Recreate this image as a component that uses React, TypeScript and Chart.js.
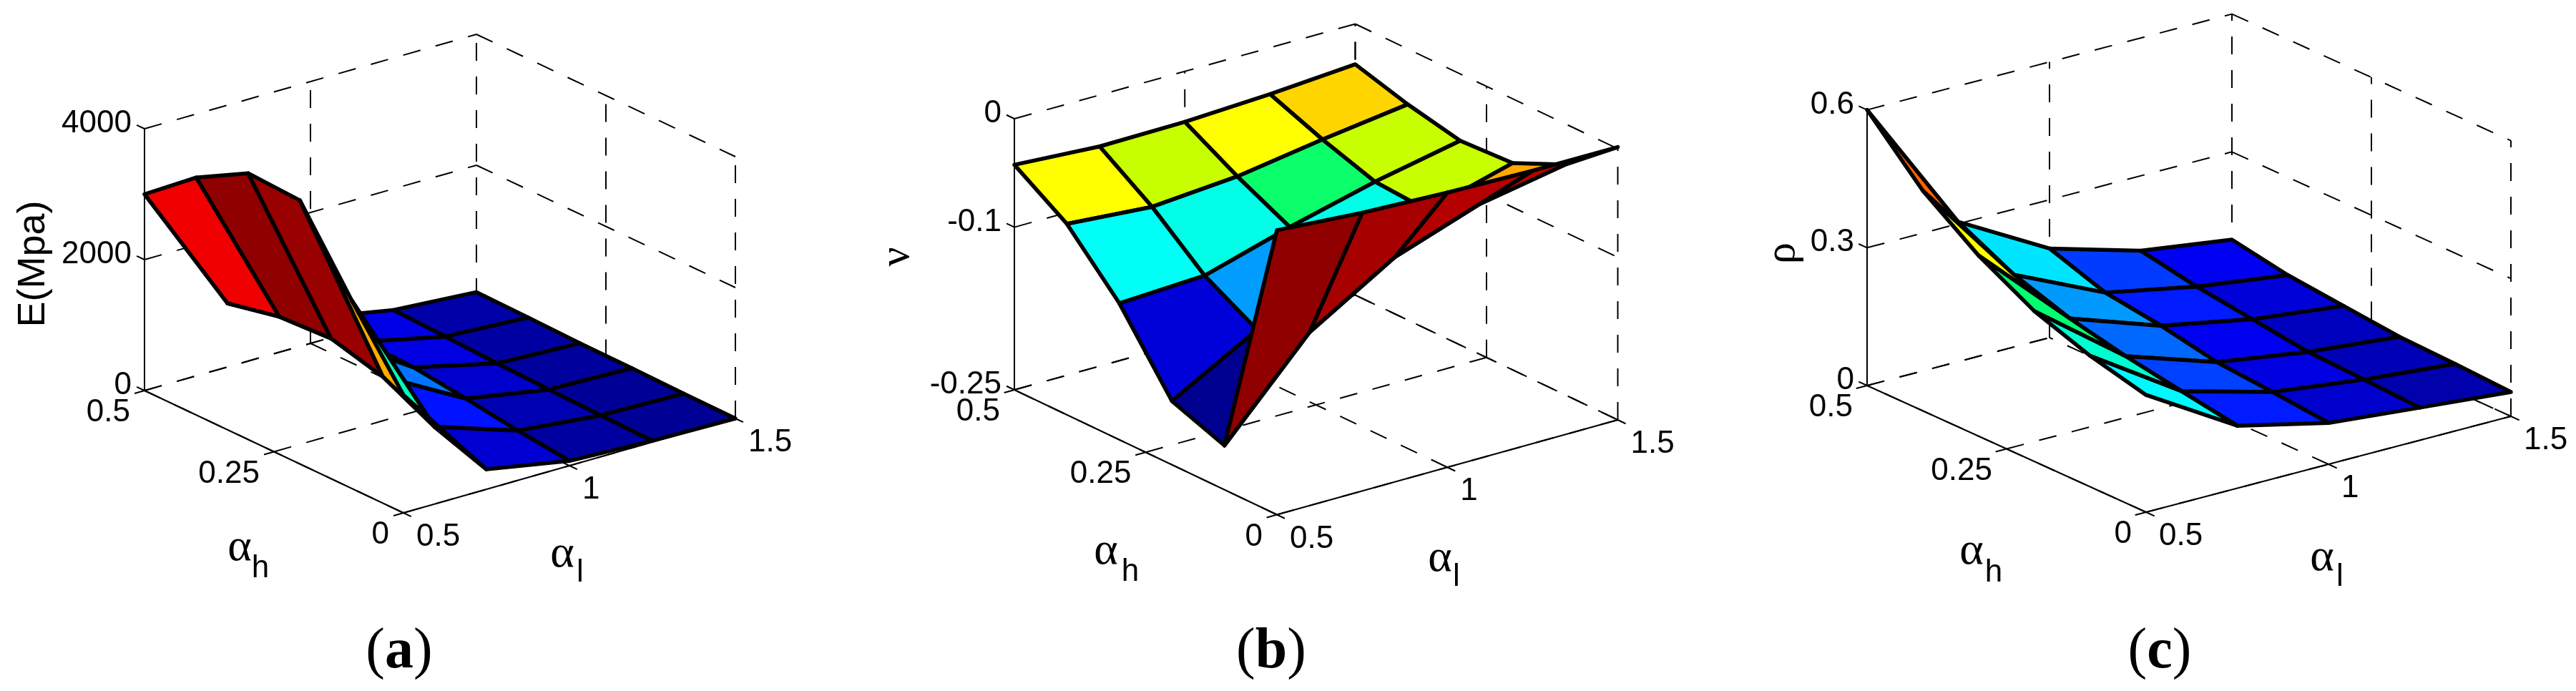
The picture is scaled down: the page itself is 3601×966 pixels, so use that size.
import React, { useRef, useEffect } from 'react';
import { Chart } from 'chart.js/auto';

// grid of the three surfaces, every row is one alpha_l, every column one alpha_h
const ALPHA_L = [0.5, 0.75, 1, 1.25, 1.5];
const ALPHA_H = [0, 0.1, 0.2, 0.3, 0.4, 0.5];

const E_VALUES = [
  [1800, 2874, 4027, 4068, 3628, 3000],
  [306, 579, 973, 1183, 1142, 973],
  [74, 162, 277, 378, 399, 385],
  [20, 34, 54, 81, 115, 149],
  [0, 5, 20, 27, 47, 61],
];
const NU_VALUES = [
  [0.0123, -0.2092, -0.1912, -0.1242, -0.0739, -0.0425],
  [0.0065, -0.1266, -0.1475, -0.1205, -0.0801, -0.0474],
  [0.0033, -0.0792, -0.1205, -0.0976, -0.0739, -0.0466],
  [0.0016, -0.0519, -0.0809, -0.0776, -0.0617, -0.0429],
  [0.0016, -0.0376, -0.0592, -0.0617, -0.0511, -0.0372],
];
const RHO_VALUES = [
  [0.255, 0.285, 0.327, 0.393, 0.479, 0.6],
  [0.136, 0.156, 0.177, 0.204, 0.244, 0.304],
  [0.09, 0.102, 0.112, 0.136, 0.153, 0.194],
  [0.071, 0.077, 0.082, 0.098, 0.114, 0.137],
  [0.053, 0.059, 0.063, 0.075, 0.087, 0.109],
];

const L_TICKS = [0.5, 1, 1.5];
const L_TICK_LABELS = ['0.5', '1', '1.5'];
const H_TICKS = [0, 0.25, 0.5];
const H_TICK_LABELS = ['0', '0.25', '0.5'];
const E_TICKS = [0, 2000, 4000];
const E_TICK_LABELS = ['0', '2000', '4000'];
const NU_TICKS = [-0.25, -0.1, 0];
const NU_TICK_LABELS = ['-0.25', '-0.1', '0'];
const RHO_TICKS = [0, 0.3, 0.6];
const RHO_TICK_LABELS = ['0', '0.3', '0.6'];

// jet-like colour map as it looks in the picture
const CMAP_STOPS = [0, 0.125, 0.375, 0.43, 0.5, 0.575, 0.595, 0.61, 0.625, 0.875, 1];
const CMAP_COLORS = ['#000090', '#0000ff', '#00ffff', '#00ffc8', '#00ff70', '#c8ff00', '#c8ff00', '#ffff00', '#ffff00', '#ff0000', '#900000'];

const rgb = (hex: string) => [1, 3, 5].map((k) => parseInt(hex.slice(k, k + 2), 16));

const colorFor = (t: number) => {
  let k = 0;
  while (k < CMAP_STOPS.length - 2 && t > CMAP_STOPS[k + 1]) k++;
  const f = (t - CMAP_STOPS[k]) / (CMAP_STOPS[k + 1] - CMAP_STOPS[k]);
  const a = rgb(CMAP_COLORS[k]);
  const b = rgb(CMAP_COLORS[k + 1]);
  return `rgb(${a.map((v, n) => Math.round(v + (b[n] - v) * f)).join(',')})`;
};

interface PanelProps {
  left: number;
  width: number;
  values: number[][];
  zTicks: number[];
  zTickLabels: string[];
  frame: { front: number[]; right: number[]; side: number[]; top: number };
  zTitle: { text: string; x: number; y: number; font: string };
  alphaH: number[];
  alphaL: number[];
  caption: { letter: string; x: number };
}

const TICK_FONT = '44px "Liberation Sans"';
const ALPHA_FONT = '64px "Liberation Serif"';
const SUB_FONT = '44px "Liberation Sans"';

const Panel: React.FC<PanelProps> = ({ left, width, values, zTicks, zTickLabels, frame, zTitle, alphaH, alphaL, caption }) => {
  const canvasRef = useRef<HTMLCanvasElement | null>(null);

  useEffect(() => {
    if (!canvasRef.current) return;

    const zMin = zTicks[0];
    const zMax = zTicks[zTicks.length - 1];
    const { front, right, side, top } = frame;

    // oblique view of the box, MATLAB style
    const project = (l: number, h: number, z: number) => {
      const f = l - 0.5;
      const g = h / 0.5;
      const k = (z - zMin) / (zMax - zMin);
      return {
        x: front[0] + f * (right[0] - front[0]) + g * (side[0] - front[0]),
        y: front[1] + f * (right[1] - front[1]) + g * (side[1] - front[1]) - k * (side[1] - top),
      };
    };

    const flat = values.reduce((acc, row) => acc.concat(row), [] as number[]);
    const cMin = Math.min(...flat);
    const cMax = Math.max(...flat);

    const drawn: any[] = [];
    const segment = (pts: { x: number; y: number }[], dashed: boolean) =>
      drawn.push({
        data: pts,
        showLine: true,
        fill: false,
        borderColor: '#000',
        borderWidth: 2,
        borderDash: dashed ? [25, 22] : [],
        pointRadius: 0,
        clip: false,
      });

    // dashed box grid on the two back walls and the floor
    zTicks.forEach((z) => {
      segment([project(0.5, 0.5, z), project(1.5, 0.5, z)], true);
      segment([project(1.5, 0.5, z), project(1.5, 0, z)], true);
    });
    L_TICKS.forEach((l) => {
      segment([project(l, 0.5, zMin), project(l, 0.5, zMax)], true);
      segment([project(l, 0, zMin), project(l, 0.5, zMin)], true);
    });
    H_TICKS.forEach((h) => {
      segment([project(1.5, h, zMin), project(1.5, h, zMax)], true);
      segment([project(0.5, h, zMin), project(1.5, h, zMin)], true);
    });

    // solid axes with short ticks
    segment([project(0.5, 0.5, zMin), project(0.5, 0.5, zMax)], false);
    segment([project(0.5, 0.5, zMin), project(0.5, 0, zMin)], false);
    segment([project(0.5, 0, zMin), project(1.5, 0, zMin)], false);
    zTicks.forEach((z) => segment([project(0.5, 0.5, z), project(0.5, 0.515, z)], false));
    H_TICKS.forEach((h) => segment([project(0.5, h, zMin), project(0.47, h, zMin)], false));
    L_TICKS.forEach((l) => segment([project(l, 0, zMin), project(l, -0.015, zMin)], false));

    // surface, far cells first
    for (let j = ALPHA_H.length - 2; j >= 0; j--) {
      for (let i = ALPHA_L.length - 2; i >= 0; i--) {
        const corner = (a: number, b: number) => project(ALPHA_L[a], ALPHA_H[b], values[a][b]);
        const p0 = corner(i, j);
        drawn.push({
          data: [p0, corner(i + 1, j), corner(i + 1, j + 1), corner(i, j + 1), p0],
          showLine: true,
          fill: 'shape',
          backgroundColor: colorFor((values[i][j] - cMin) / (cMax - cMin)),
          borderColor: '#000',
          borderWidth: 5.5,
          borderJoinStyle: 'round',
          borderCapStyle: 'round',
          pointRadius: 0,
          clip: false,
        });
      }
    }

    const textPlugin = {
      id: 'panelText',
      afterDatasetsDraw(chart: any) {
        const { ctx, scales } = chart;
        const px = (p: { x: number; y: number }) => [scales.x.getPixelForValue(p.x), scales.y.getPixelForValue(p.y)];
        const put = (s: string, x: number, y: number, font: string, align: CanvasTextAlign = 'center') => {
          ctx.font = font;
          ctx.textAlign = align;
          ctx.textBaseline = 'middle';
          ctx.fillStyle = '#000';
          ctx.fillText(s, x, y);
        };
        ctx.save();
        zTicks.forEach((z, k) => {
          const [x, y] = px(project(0.5, 0.5, z));
          put(zTickLabels[k], x - 18, y - 7, TICK_FONT, 'right');
        });
        H_TICKS.forEach((h, k) => {
          const [x, y] = px(project(0.5, h, zMin));
          put(H_TICK_LABELS[k], x - 20, y + 31, TICK_FONT, 'right');
        });
        L_TICKS.forEach((l, k) => {
          const [x, y] = px(project(l, 0, zMin));
          put(L_TICK_LABELS[k], x + 18, y + 34, TICK_FONT, 'left');
        });

        put('α', alphaH[0], alphaH[1], ALPHA_FONT);
        put('h', alphaH[2], alphaH[3], SUB_FONT);
        put('α', alphaL[0], alphaL[1], ALPHA_FONT);
        put('l', alphaL[2], alphaL[3], SUB_FONT);

        ctx.save();
        ctx.translate(zTitle.x, zTitle.y);
        ctx.rotate(-Math.PI / 2);
        put(zTitle.text, 0, 0, zTitle.font);
        ctx.restore();

        // caption: regular brackets, bold letter
        const y = 912;
        ctx.font = 'bold 80px "Liberation Serif"';
        const letterW = ctx.measureText(caption.letter).width;
        ctx.font = '80px "Liberation Serif"';
        const bracketW = ctx.measureText('(').width;
        const start = caption.x - (letterW + 2 * bracketW) / 2;
        put('(', start, y, '80px "Liberation Serif"', 'left');
        put(caption.letter, start + bracketW, y, 'bold 80px "Liberation Serif"', 'left');
        put(')', start + bracketW + letterW, y, '80px "Liberation Serif"', 'left');
        ctx.restore();
      },
    };

    const chart = new Chart(canvasRef.current, {
      type: 'scatter',
      // chart.js paints the first dataset last
      data: { datasets: drawn.reverse() },
      options: {
        animation: false,
        responsive: false,
        devicePixelRatio: 1,
        events: [],
        layout: { padding: 0 },
        plugins: { legend: { display: false }, tooltip: { enabled: false } },
        scales: {
          x: { type: 'linear', display: false, min: 0, max: width },
          y: { type: 'linear', display: false, min: 0, max: 966, reverse: true },
        },
      },
      plugins: [textPlugin],
    } as any);

    return () => chart.destroy();
  }, []);

  return (
    <canvas
      ref={canvasRef}
      width={width}
      height={966}
      style={{ position: 'absolute', left, top: 0, width, height: 966 }}
    />
  );
};

const App: React.FC = () => (
  <div style={{ position: 'fixed', left: 0, top: 0, width: 3601, height: 966, background: '#fff', overflow: 'hidden' }}>
    <Panel
      left={0}
      width={1200}
      values={E_VALUES}
      zTicks={E_TICKS}
      zTickLabels={E_TICK_LABELS}
      frame={{ front: [564, 717], right: [1028, 585], side: [202, 546], top: 180 }}
      zTitle={{ text: 'E(Mpa)', x: 47, y: 369, font: '54px "Liberation Sans"' }}
      alphaH={[335, 766, 364, 795]}
      alphaL={[786, 775, 811, 801]}
      caption={{ letter: 'a', x: 558 }}
    />
    <Panel
      left={1200}
      width={1200}
      values={NU_VALUES}
      zTicks={NU_TICKS}
      zTickLabels={NU_TICK_LABELS}
      frame={{ front: [585, 719.5], right: [1061.5, 587], side: [218, 545], top: 166 }}
      zTitle={{ text: 'ν', x: 54, y: 359, font: '60px "Liberation Serif"' }}
      alphaH={[346, 771, 380, 800]}
      alphaL={[813, 781, 836, 807]}
      caption={{ letter: 'b', x: 577 }}
    />
    <Panel
      left={2400}
      width={1201}
      values={RHO_VALUES}
      zTicks={RHO_TICKS}
      zTickLabels={RHO_TICK_LABELS}
      frame={{ front: [600, 716], right: [1110, 582], side: [210, 539], top: 153.6 }}
      zTitle={{ text: 'ρ', x: 92, y: 354, font: '60px "Liberation Serif"' }}
      alphaH={[356, 771, 387, 801]}
      alphaL={[846, 780, 871, 807]}
      caption={{ letter: 'c', x: 619 }}
    />
  </div>
);

export default App;
